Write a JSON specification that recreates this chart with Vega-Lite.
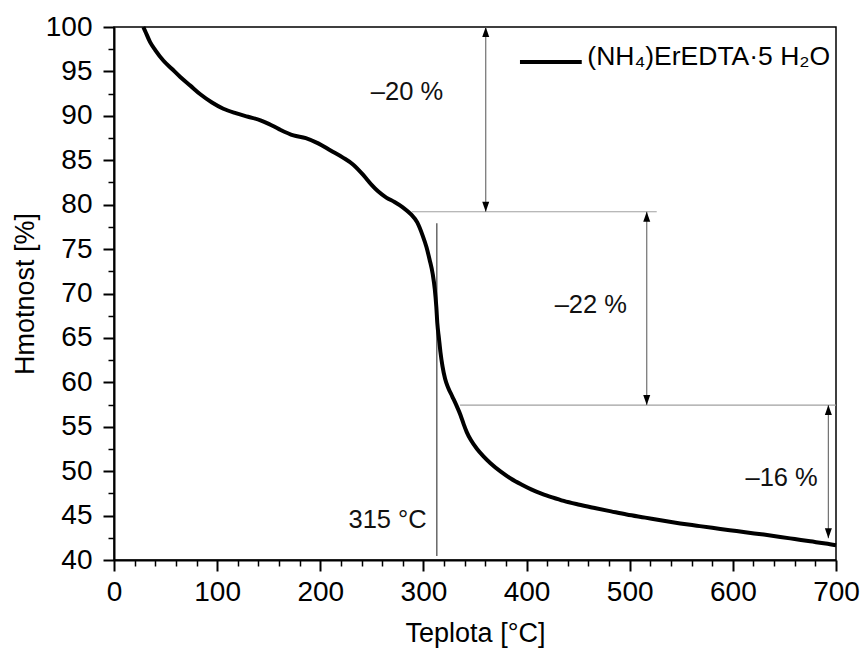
{
  "$schema": "https://vega.github.io/schema/vega-lite/v6.json",
  "width": 722,
  "height": 533,
  "autosize": {"type": "none"},
  "padding": {"left": 114, "top": 27, "right": 28, "bottom": 98},
  "background": "white",
  "config": {
    "font": "Liberation Sans",
    "view": {"stroke": "black", "strokeWidth": 1.5},
    "axis": {"grid": false, "domainColor": "black", "tickColor": "black", "labelColor": "black", "titleColor": "black", "titleFontWeight": "normal", "labelFlush": false}
  },
  "datasets": {
    "curve": [
      {"T": 28.4, "m": 100}, {"T": 30, "m": 99.6}, {"T": 35, "m": 98.3}, {"T": 40, "m": 97.4},
      {"T": 48, "m": 96.2}, {"T": 56, "m": 95.3}, {"T": 64, "m": 94.4}, {"T": 74, "m": 93.4},
      {"T": 84, "m": 92.4}, {"T": 95, "m": 91.5}, {"T": 106, "m": 90.8}, {"T": 118, "m": 90.3},
      {"T": 130, "m": 89.9}, {"T": 142, "m": 89.5}, {"T": 150, "m": 89.1}, {"T": 160, "m": 88.5},
      {"T": 174, "m": 87.8}, {"T": 186, "m": 87.5}, {"T": 198, "m": 86.9}, {"T": 210, "m": 86.1},
      {"T": 222, "m": 85.3}, {"T": 232, "m": 84.5}, {"T": 242, "m": 83.3}, {"T": 250, "m": 82.2},
      {"T": 256, "m": 81.5}, {"T": 264, "m": 80.8}, {"T": 272, "m": 80.3}, {"T": 280, "m": 79.7},
      {"T": 288, "m": 78.9}, {"T": 294, "m": 78.0}, {"T": 299, "m": 76.6}, {"T": 303, "m": 75.2},
      {"T": 306, "m": 73.8}, {"T": 309, "m": 72.2}, {"T": 311, "m": 70.5}, {"T": 312.5, "m": 68.5},
      {"T": 313.5, "m": 66.6}, {"T": 315, "m": 65.0}, {"T": 316.5, "m": 63.4}, {"T": 318.5, "m": 61.8},
      {"T": 321, "m": 60.4}, {"T": 324, "m": 59.4}, {"T": 328, "m": 58.4}, {"T": 332, "m": 57.4},
      {"T": 336, "m": 56.3}, {"T": 339, "m": 55.3}, {"T": 342, "m": 54.4}, {"T": 346, "m": 53.5},
      {"T": 352, "m": 52.5}, {"T": 358, "m": 51.7}, {"T": 365, "m": 50.9}, {"T": 375, "m": 49.95},
      {"T": 385, "m": 49.15}, {"T": 395, "m": 48.5}, {"T": 405, "m": 47.92}, {"T": 415, "m": 47.45},
      {"T": 425, "m": 47.05}, {"T": 436, "m": 46.65}, {"T": 450, "m": 46.25}, {"T": 466, "m": 45.85},
      {"T": 482, "m": 45.47}, {"T": 497, "m": 45.12}, {"T": 515, "m": 44.77}, {"T": 530, "m": 44.47},
      {"T": 549, "m": 44.12}, {"T": 565, "m": 43.86}, {"T": 580, "m": 43.62}, {"T": 597, "m": 43.36},
      {"T": 612, "m": 43.12}, {"T": 630, "m": 42.86}, {"T": 646, "m": 42.6}, {"T": 660, "m": 42.36},
      {"T": 675, "m": 42.1}, {"T": 690, "m": 41.85}, {"T": 700, "m": 41.65}
    ],
    "hlines": [
      {"x1": 288.6, "x2": 526.2, "y": 79.2},
      {"x1": 335.5, "x2": 700, "y": 57.44}
    ],
    "shafts": [
      {"x": 360.4, "y1": 79.2, "y2": 100},
      {"x": 516.5, "y1": 57.44, "y2": 79.2},
      {"x": 692.6, "y1": 42.45, "y2": 57.44}
    ],
    "tline": [
      {"x": 313, "y1": 40.45, "y2": 77.9}
    ],
    "arrows": [
      {"x": 360.4, "y": 100, "dir": "up"},
      {"x": 360.4, "y": 79.2, "dir": "down"},
      {"x": 516.5, "y": 79.2, "dir": "up"},
      {"x": 516.5, "y": 57.44, "dir": "down"},
      {"x": 692.6, "y": 57.44, "dir": "up"},
      {"x": 692.6, "y": 42.45, "dir": "down"}
    ],
    "labels": [
      {"x": 284, "y": 92.7, "text": "–20 %"},
      {"x": 462.3, "y": 68.7, "text": "–22 %"},
      {"x": 647.3, "y": 49.2, "text": "–16 %"}
    ],
    "tlabel": [
      {"x": 303.2, "y": 44.5, "text": "315 °C"}
    ],
    "legline": [
      {"x1": 393.6, "x2": 453.5, "y": 96.06}
    ],
    "legtext": [
      {"x": 458.9, "y": 95.7, "text": "(NH₄)ErEDTA·5 H₂O"}
    ]
  },
  "resolve": {"axis": {"x": "independent", "y": "independent"}},
  "layer": [
    {
      "data": {"name": "hlines"},
      "mark": {"type": "rule", "color": "#a0a0a0", "strokeWidth": 1.2},
      "encoding": {
        "x": {"field": "x1", "type": "quantitative", "scale": {"domain": [0, 700], "nice": false},
          "axis": {"orient": "bottom", "values": [20,40,60,80,120,140,160,180,220,240,260,280,320,340,360,380,420,440,460,480,520,540,560,580,620,640,660,680], "labels": false, "domain": false, "tickSize": 6, "tickWidth": 1.5, "title": null}},
        "x2": {"field": "x2"},
        "y": {"field": "y", "type": "quantitative", "scale": {"domain": [40, 100], "nice": false}, "axis": null}
      }
    },
    {
      "data": {"name": "shafts"},
      "mark": {"type": "rule", "color": "#707070", "strokeWidth": 1.2},
      "encoding": {
        "x": {"field": "x", "type": "quantitative", "axis": null},
        "y": {"field": "y1", "type": "quantitative",
          "axis": {"orient": "left", "values": [42.5,47.5,52.5,57.5,62.5,67.5,72.5,77.5,82.5,87.5,92.5,97.5], "labels": false, "domain": false, "tickSize": 6, "tickWidth": 1.5, "title": null}},
        "y2": {"field": "y2"}
      }
    },
    {
      "data": {"name": "tline"},
      "mark": {"type": "rule", "color": "#404040", "strokeWidth": 1.2},
      "encoding": {
        "x": {"field": "x", "type": "quantitative", "axis": null},
        "y": {"field": "y1", "type": "quantitative", "axis": null},
        "y2": {"field": "y2"}
      }
    },
    {
      "data": {"name": "curve"},
      "mark": {"type": "line", "color": "black", "strokeWidth": 4, "strokeJoin": "round", "interpolate": "monotone"},
      "encoding": {
        "x": {"field": "T", "type": "quantitative",
          "axis": {"orient": "bottom", "values": [0,100,200,300,400,500,600,700], "tickSize": 11, "tickWidth": 2, "domainWidth": 2, "labelFontSize": 28, "labelPadding": 7, "title": "Teplota [°C]", "titleFontSize": 27, "titlePadding": 14}},
        "y": {"field": "m", "type": "quantitative",
          "axis": {"orient": "left", "values": [40,45,50,55,60,65,70,75,80,85,90,95,100], "tickSize": 11, "tickWidth": 2, "domainWidth": 2, "labelFontSize": 28, "labelPadding": 11, "title": "Hmotnost [%]", "titleFontSize": 27, "titlePadding": 6}}
      }
    },
    {
      "data": {"name": "arrows"},
      "mark": {"type": "point", "filled": true, "color": "black", "opacity": 1, "size": 100},
      "encoding": {
        "x": {"field": "x", "type": "quantitative", "axis": null},
        "y": {"field": "y", "type": "quantitative", "axis": null},
        "shape": {"field": "dir", "type": "nominal", "legend": null,
          "scale": {"domain": ["up", "down"], "range": ["M0,0L-0.7,2L0.7,2Z", "M0,0L-0.7,-2L0.7,-2Z"]}}
      }
    },
    {
      "data": {"name": "labels"},
      "mark": {"type": "text", "fontSize": 25.5, "color": "#111", "align": "center", "baseline": "middle"},
      "encoding": {
        "x": {"field": "x", "type": "quantitative", "axis": null},
        "y": {"field": "y", "type": "quantitative", "axis": null},
        "text": {"field": "text"}
      }
    },
    {
      "data": {"name": "tlabel"},
      "mark": {"type": "text", "fontSize": 25.5, "color": "#111", "align": "right", "baseline": "middle"},
      "encoding": {
        "x": {"field": "x", "type": "quantitative", "axis": null},
        "y": {"field": "y", "type": "quantitative", "axis": null},
        "text": {"field": "text"}
      }
    },
    {
      "data": {"name": "legline"},
      "mark": {"type": "rule", "color": "black", "strokeWidth": 4},
      "encoding": {
        "x": {"field": "x1", "type": "quantitative", "axis": null},
        "x2": {"field": "x2"},
        "y": {"field": "y", "type": "quantitative", "axis": null}
      }
    },
    {
      "data": {"name": "legtext"},
      "mark": {"type": "text", "fontSize": 26.5, "color": "black", "align": "left", "baseline": "alphabetic"},
      "encoding": {
        "x": {"field": "x", "type": "quantitative", "axis": null},
        "y": {"field": "y", "type": "quantitative", "axis": null},
        "text": {"field": "text"}
      }
    }
  ]
}
